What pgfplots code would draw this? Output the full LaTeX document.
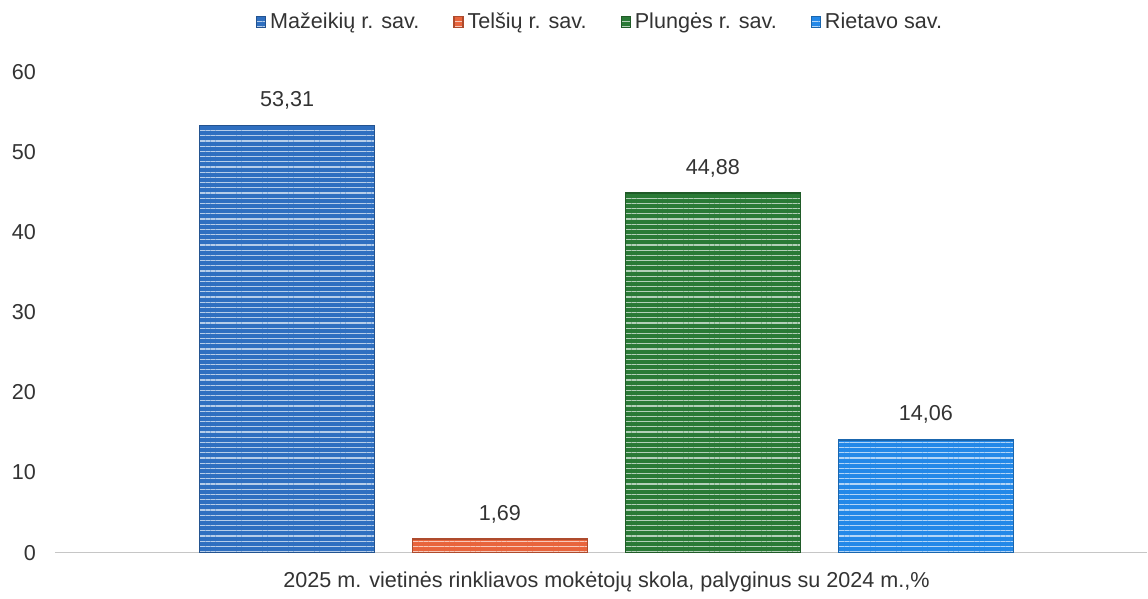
\documentclass[border=0pt]{standalone}
\usepackage{pgfplots}
\pgfplotsset{compat=1.18}
\usetikzlibrary{patterns.meta}
\usepackage{fontspec}
\setmainfont{Liberation Sans}

\definecolor{cMaz}{HTML}{2F6FC0}
\definecolor{cTel}{HTML}{E8643C}
\definecolor{cPlu}{HTML}{2A7A36}
\definecolor{cRie}{HTML}{2388E8}
\definecolor{txt}{HTML}{333333}

\pgfplotsset{
  stripes/.style={fill=#1, draw=#1!75!black, line width=0.6pt,
    postaction={pattern={Lines[angle=0,distance=2.6pt,line width=0.6pt]}, pattern color=#1!35!white}},
}

\begin{document}
\begin{tikzpicture}
\path (-27.5pt,-21pt) rectangle (546.5pt,276.5pt);
\begin{axis}[
  at={(0,0)}, anchor=south west,
  scale only axis,
  width=546.5pt, height=240.5pt,
  xmin=-1.09, xmax=4.04,
  ymin=0, ymax=60,
  ytick={0,10,...,60},
  xtick=\empty,
  axis x line*=bottom,
  axis y line*=left,
  x axis line style={draw=gray!45, line width=0.8pt, -},
  y axis line style={draw=none},
  major tick length=0pt,
  ybar, bar width=87.5pt, bar shift=0pt,
  font=\fontsize{10.8}{13}\selectfont\color{txt},
  /pgf/number format/assume math mode=true,
  yticklabel style={xshift=-6pt},
  xlabel={2025 m. vietinės rinkliavos mokėtojų skola, palyginus su 2024 m.,\%},
  every axis x label/.style={at={(axis description cs:0.505,-0.0603)}, anchor=center},
  nodes near coords={\pgfmathprintnumber[fixed,fixed zerofill,precision=2,use comma]{\pgfplotspointmeta}},
  nodes near coords style={yshift=4.5pt, font=\fontsize{10.8}{13}\selectfont, text=txt},
  legend style={at={(axis description cs:0.5,1.104)}, anchor=center, draw=none,
    font=\fontsize{10.8}{13}\selectfont, text=txt,
    /tikz/every even column/.append style={column sep=15pt}},
  legend columns=4,
  legend image code/.code={\fill[#1] (0pt,-2.8pt) rectangle (4.5pt,2.8pt);},
]
\addplot[stripes=cMaz] coordinates {(0,53.31)};
\addplot[stripes=cTel] coordinates {(1,1.69)};
\addplot[stripes=cPlu] coordinates {(2,44.88)};
\addplot[stripes=cRie] coordinates {(3,14.06)};
\legend{Mažeikių r. sav., Telšių r. sav., Plungės r. sav., Rietavo sav.}
\end{axis}
\end{tikzpicture}
\end{document}
